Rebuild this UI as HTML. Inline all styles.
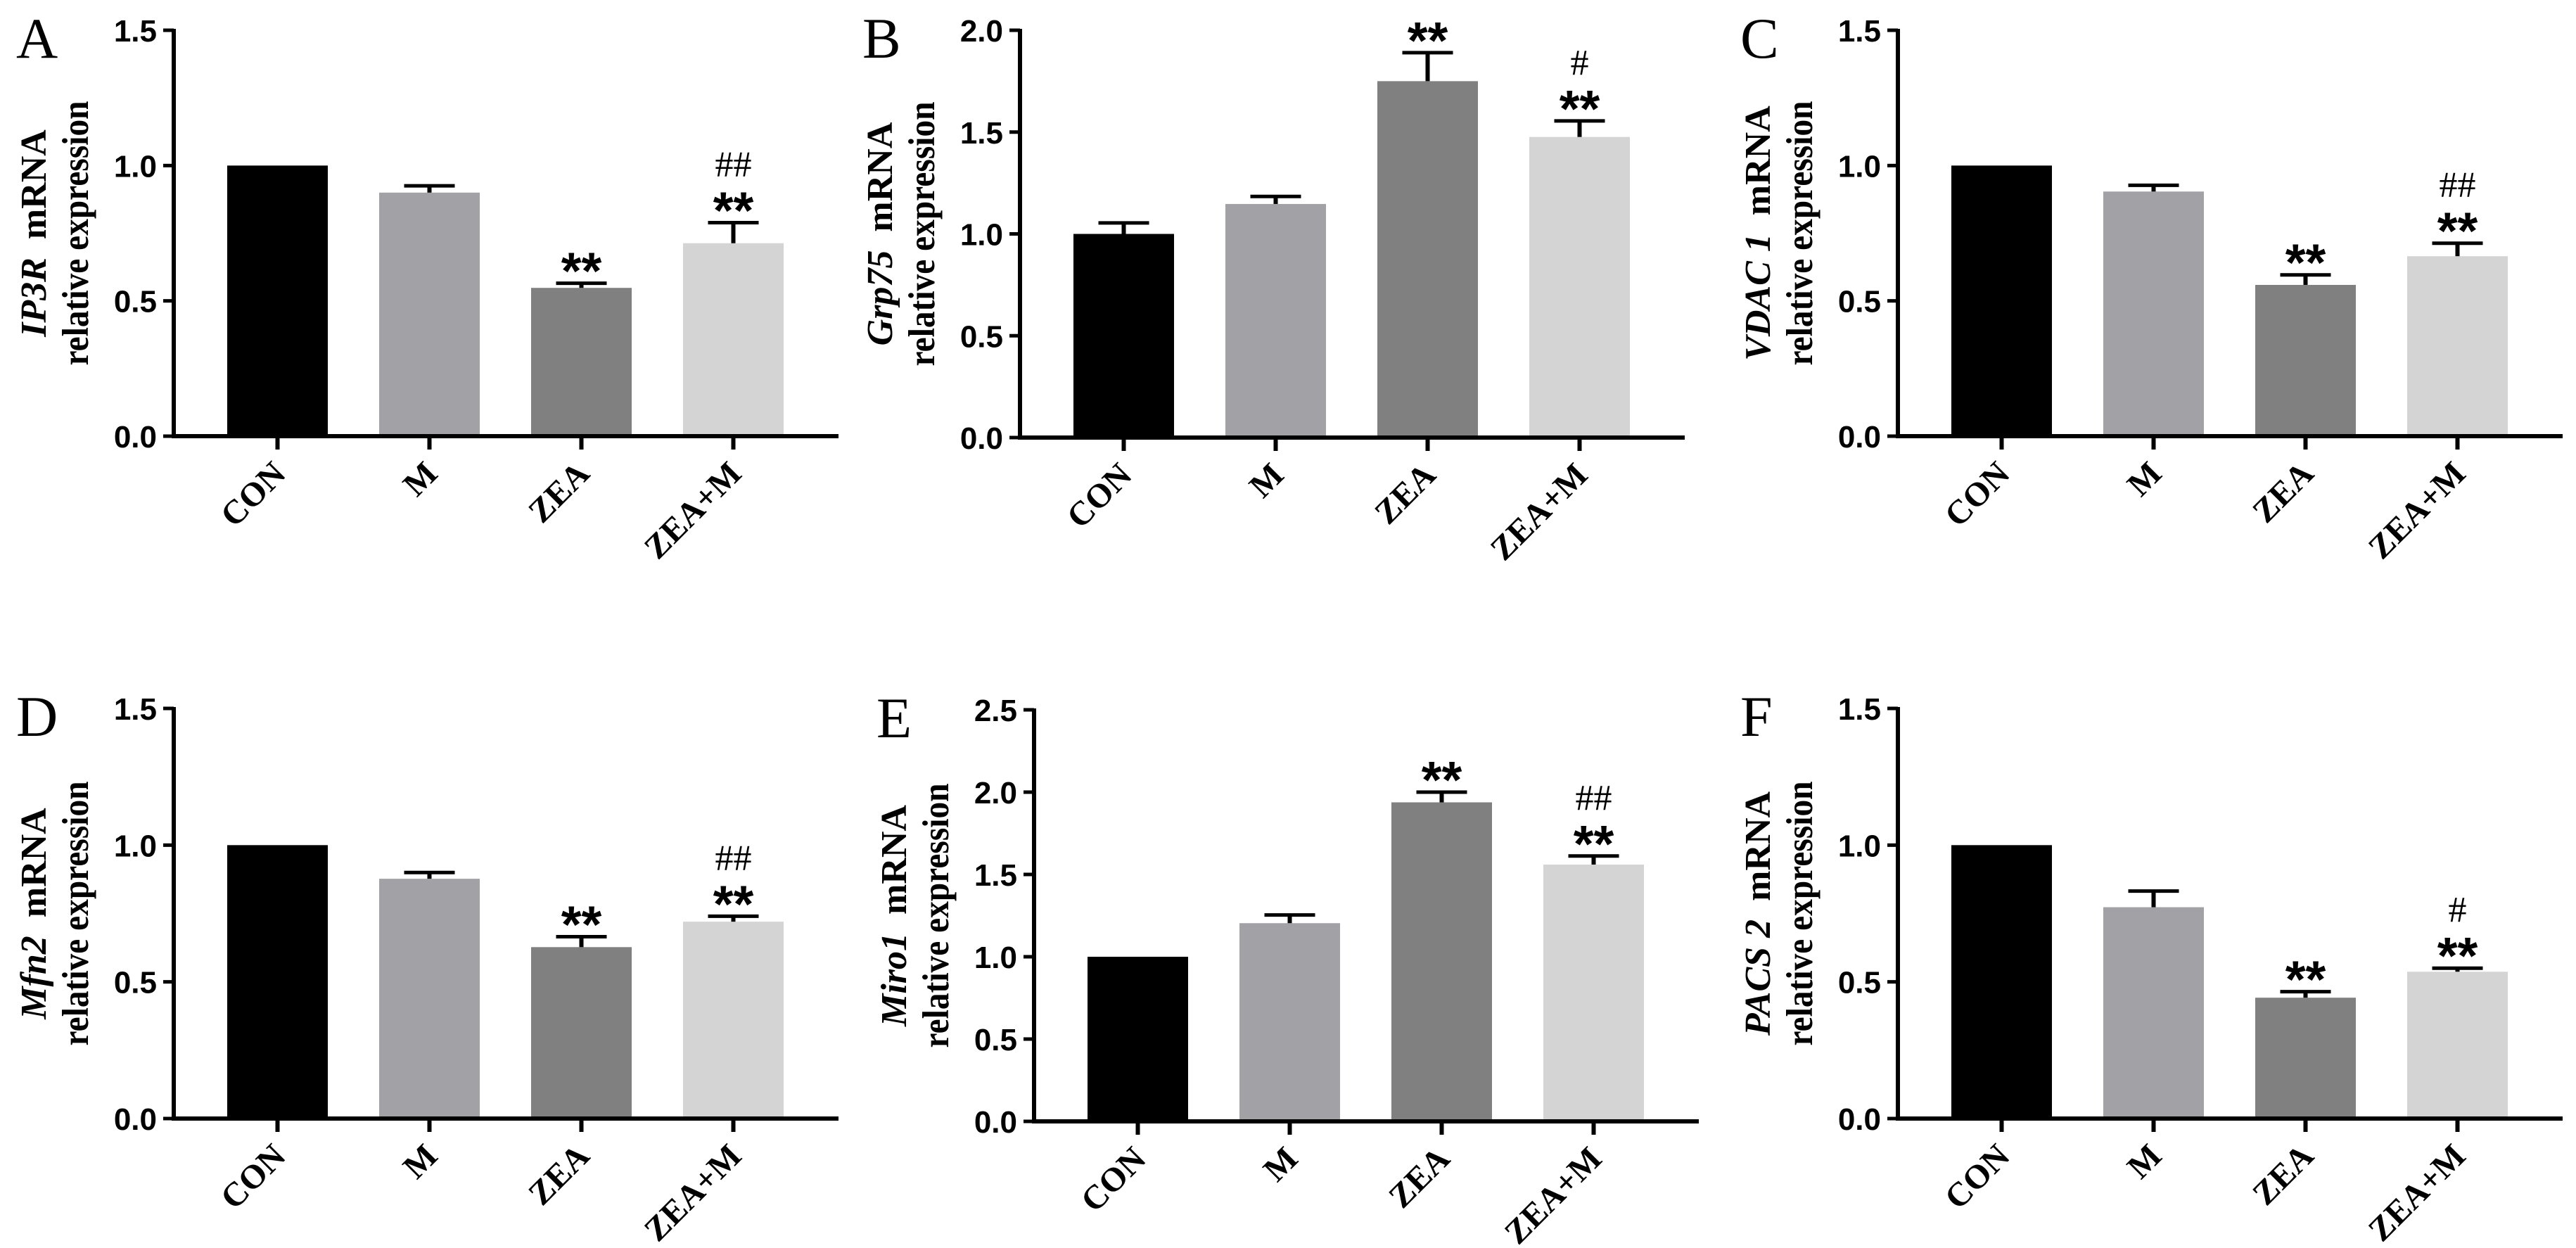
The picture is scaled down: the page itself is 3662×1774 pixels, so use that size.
<!DOCTYPE html>
<html><head><meta charset="utf-8"><style>
html,body{margin:0;padding:0;background:#fff;}
svg{display:block;}
</style></head><body>
<svg id="fig" width="3662" height="1774" viewBox="0 0 3662 1774" xmlns="http://www.w3.org/2000/svg"></svg>
<script>
const categories = ["CON", "M", "ZEA", "ZEA+M"];
const barColors = ["#000000", "#a1a1a6", "#808080", "#d4d4d4"];
const panelLetters = ["A", "B", "C", "D", "E", "F"];
const geneNames = ["IP3R", "Grp75", "VDAC 1", "Mfn2", "Miro1", "PACS 2"];
const yMaxes = [1.5, 2.0, 1.5, 1.5, 2.5, 1.5];
const valuesA = [1.0, 0.90, 0.548, 0.713];
const errorsA = [0, 0.025, 0.017, 0.076];
const valuesB = [1.0, 1.147, 1.750, 1.476];
const errorsB = [0.054, 0.037, 0.140, 0.079];
const valuesC = [1.0, 0.904, 0.559, 0.665];
const errorsC = [0, 0.023, 0.037, 0.048];
const valuesD = [1.0, 0.877, 0.627, 0.720];
const errorsD = [0, 0.023, 0.038, 0.020];
const valuesE = [1.0, 1.204, 1.938, 1.560];
const errorsE = [0, 0.050, 0.062, 0.052];
const valuesF = [1.0, 0.773, 0.442, 0.537];
const errorsF = [0, 0.059, 0.022, 0.013];
const starsAll = [["","","**","**"],["","","**","**"],["","","**","**"],["","","**","**"],["","","**","**"],["","","**","**"]];
const hashAll = [["","","","##"],["","","","#"],["","","","##"],["","","","##"],["","","","##"],["","","","#"]];

const allValues = [valuesA, valuesB, valuesC, valuesD, valuesE, valuesF];
const allErrors = [errorsA, errorsB, errorsC, errorsD, errorsE, errorsF];
const layout = [
  {ax:247, top:43, bottom:620},
  {ax:1450, top:43, bottom:622},
  {ax:2698, top:43, bottom:620},
  {ax:247, top:1007, bottom:1590},
  {ax:1470, top:1009, bottom:1594},
  {ax:2698, top:1007, bottom:1590}
];
const NS = "http://www.w3.org/2000/svg";
const svg = document.getElementById("fig");
function mk(tag, attrs, parent){
  const e = document.createElementNS(NS, tag);
  for (const k in attrs) e.setAttribute(k, attrs[k]);
  (parent||svg).appendChild(e);
  return e;
}
layout.forEach((L, p) => {
  const g = mk("g", {});
  
  
  const yMax = yMaxes[p];
  const yScale = v => L.bottom - v / yMax * (L.bottom - L.top);
  const xLeft = i => L.ax + 76 + i * 216;
  const bw = 143;
  const lt = mk("text", {x: L.ax - 224, y: L.top + 39, "font-family": "Liberation Serif, serif", "font-size": 82}, g);
  lt.textContent = panelLetters[p];
  
  
  const cy = (L.top + L.bottom) / 2;
  const yl1 = mk("text", {x: 0, y: 0, transform: `translate(${L.ax - 182},${cy}) rotate(-90)`, "text-anchor": "middle", "font-family": "Liberation Serif, serif", "font-size": 52, "font-weight": "bold"}, g);
  const ts1 = mk("tspan", {"font-style": "italic"}, yl1); ts1.textContent = geneNames[p];
  const ts2 = mk("tspan", {}, yl1); ts2.textContent = "\u00a0 mRNA";
  
  
  const yl2 = mk("text", {x: 0, y: 0, transform: `translate(${L.ax - 122},${cy}) rotate(-90)`, "text-anchor": "middle", "font-family": "Liberation Serif, serif", "font-size": 53, "font-weight": "bold", textLength: 376, lengthAdjust: "spacingAndGlyphs"}, g);
  yl2.textContent = "relative expression";
  
  
  allValues[p].forEach((v, i) => {
    const r = mk("rect", {x: xLeft(i), y: yScale(v), width: bw, height: L.bottom - yScale(v), fill: barColors[i]}, g);
    
    
    const e = allErrors[p][i];
    const cx = xLeft(i) + bw / 2;
    const et = yScale(v + e);
    if (e > 0) {
      const eg = mk("g", {}, g);
      
      
      mk("line", {x1: cx, x2: cx, y1: yScale(v), y2: et, stroke: "#000", "stroke-width": 6}, eg);
      mk("line", {x1: cx - 36, x2: cx + 36, y1: et, y2: et, stroke: "#000", "stroke-width": 5}, eg);
    }
    if (starsAll[p][i]) {
      const st = mk("text", {x: cx, y: et + 8, "text-anchor": "middle", "font-family": "Liberation Sans, sans-serif", "font-size": 74, "font-weight": "bold"}, g);
      st.textContent = starsAll[p][i];
      
      
    }
    if (hashAll[p][i]) {
      const ht = mk("text", {x: cx, y: et - 66, "text-anchor": "middle", "font-family": "Liberation Serif, serif", "font-size": 52}, g);
      ht.textContent = hashAll[p][i];
      
      
    }
    const tk = mk("line", {x1: cx, x2: cx, y1: L.bottom, y2: L.bottom + 19, stroke: "#000", "stroke-width": 6}, g);
    
    
    const xl = mk("text", {x: 0, y: 0, transform: `translate(${cx + 14},${L.bottom + 56}) rotate(-45)`, "text-anchor": "end", "font-family": "Liberation Serif, serif", "font-size": 48, "font-weight": "bold"}, g);
    xl.textContent = categories[i];
    
    
  });
  const ya = mk("line", {x1: L.ax, x2: L.ax, y1: L.top - 2, y2: L.bottom + 3, stroke: "#000", "stroke-width": 6}, g);
  
  
  const xa = mk("line", {x1: L.ax - 3, x2: L.ax + 945, y1: L.bottom, y2: L.bottom, stroke: "#000", "stroke-width": 6}, g);
  
  
  for (let t = 0; t <= yMax + 1e-9; t += 0.5) {
    const y = yScale(t);
    const tl = mk("line", {x1: L.ax - 15, x2: L.ax, y1: y, y2: y, stroke: "#000", "stroke-width": 5}, g);
    
    
    const tt = mk("text", {x: L.ax - 24, y: y + 16, "text-anchor": "end", "font-family": "Liberation Sans, sans-serif", "font-size": 44, "font-weight": "bold"}, g);
    tt.textContent = t.toFixed(1);
    
    
  }
});
</script>
</body></html>
